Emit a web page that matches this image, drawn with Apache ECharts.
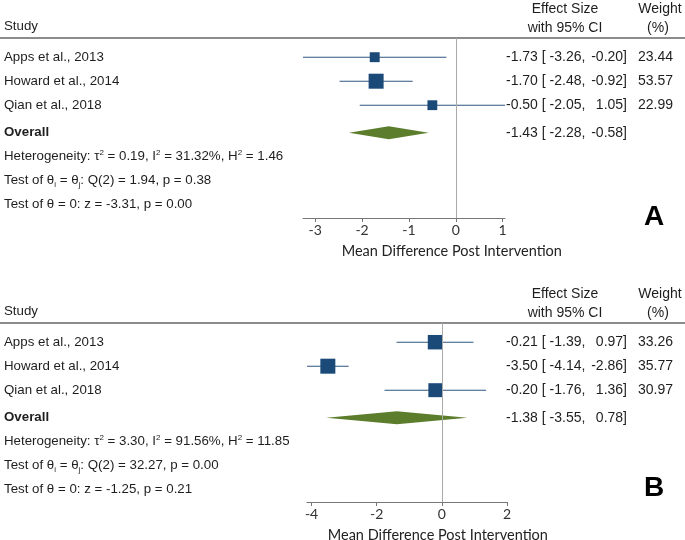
<!DOCTYPE html>
<html><head><meta charset="utf-8">
<script src="https://cdn.jsdelivr.net/npm/echarts@6/dist/echarts.min.js"></script>
<style>html,body{margin:0;padding:0;background:#fff}#c{width:685px;height:540px}</style>
</head><body><div id="c"></div>
<script>
// ---- data ----
const studies = ['Apps et al., 2013', 'Howard et al., 2014', 'Qian et al., 2018'];
// Panel A
const estA = [-1.73, -1.70, -0.50];
const lowA = [-3.26, -2.48, -2.05];
const highA = [-0.20, -0.92, 1.05];
const weightA = [23.44, 53.57, 22.99];
const overallA = [-1.43, -2.28, -0.58];
const hetA = ['0.19', '31.32%', '1.46'];
const qA = ['1.94', '0.38'];
const zA = ['-3.31', '0.00'];
const ticksA = [-3, -2, -1, 0, 1];
// Panel B
const estB = [-0.21, -3.50, -0.20];
const lowB = [-1.39, -4.14, -1.76];
const highB = [0.97, -2.86, 1.36];
const weightB = [33.26, 35.77, 30.97];
const overallB = [-1.38, -3.55, 0.78];
const hetB = ['3.30', '91.56%', '11.85'];
const qB = ['32.27', '0.00'];
const zB = ['-1.25', '0.21'];
const ticksB = [-4, -2, 0, 2];
const axisTitle = 'Mean Difference Post Intervention';
// row positions (in row units) for studies, overall, 3 stat lines
const rows = [0.8, 1.8, 2.8, 3.95, 4.95, 5.95, 6.95];

// ---- build ----
const TXT = '#1e1e1e';
const FONT = '"Liberation Sans", Arial, sans-serif';
const LS = 13.3, RS = 14;
const f2 = v => v.toFixed(2);
const panels = [
  {est: estA, low: lowA, high: highA, w: weightA, ov: overallA, het: hetA, q: qA, z: zA, ticks: ticksA,
   grid: {left: 303, right: 180, top: 38, height: 180}, ymax: 7.5, letter: 'A', letterY: 217},
  {est: estB, low: lowB, high: highB, w: weightB, ov: overallB, het: hetB, q: qB, z: zB, ticks: ticksB,
   grid: {left: 307, right: 178, top: 323, height: 179}, ymax: 7.46, letter: 'B', letterY: 488}
];
const grid = [], xAxis = [], yAxis = [], series = [];
panels.forEach((p, i) => {
  const xmin = Math.min(...p.low, ...p.ticks, p.ov[1]);
  const xmax = Math.max(...p.high, ...p.ticks, p.ov[2]);
  grid.push(Object.assign({containLabel: false}, p.grid));
  xAxis.push({type: 'value', gridIndex: i, min: xmin, max: xmax, splitLine: {show: false},
    axisLine: {show: true, onZero: false, lineStyle: {color: '#777', width: 1}},
    axisTick: {show: true, length: 4, customValues: p.ticks, lineStyle: {color: '#777'}},
    axisLabel: {customValues: p.ticks, fontFamily: 'Lato', fontSize: 14, color: '#333', margin: 5}});
  yAxis.push({type: 'value', gridIndex: i, min: 0, max: p.ymax, inverse: true, show: false});
  const wmax = Math.max(...p.w);
  series.push({type: 'custom', xAxisIndex: i, yAxisIndex: i, z: 2,
    data: p.est.map((e, k) => [p.low[k], p.high[k], rows[k]]),
    encode: {x: [0, 1], y: 2},
    renderItem: (params, api) => {
      const a = api.coord([api.value(0), api.value(2)]);
      const b = api.coord([api.value(1), api.value(2)]);
      return {type: 'line', shape: {x1: a[0], y1: a[1], x2: b[0], y2: b[1]},
        style: {stroke: '#2f5680', lineWidth: 1.1}};
    }});
  series.push({type: 'scatter', xAxisIndex: i, yAxisIndex: i, symbol: 'rect', z: 3,
    data: p.est.map((e, k) => [e, rows[k], p.w[k]]),
    symbolSize: v => 15 * Math.sqrt(v[2] / wmax),
    itemStyle: {color: '#1b4a78', opacity: 1},
    markLine: {symbol: 'none', silent: true, animation: false, label: {show: false},
      lineStyle: {color: '#aaa', width: 1, type: 'solid'}, data: [{xAxis: 0}]}});
  series.push({type: 'custom', xAxisIndex: i, yAxisIndex: i, z: 3,
    data: [[p.ov[1], p.ov[0], p.ov[2], rows[3]]],
    encode: {x: [0, 1, 2], y: 3},
    renderItem: (params, api) => {
      const y = api.value(3);
      const l = api.coord([api.value(0), y]), c = api.coord([api.value(1), y]), r = api.coord([api.value(2), y]);
      const h = 6.5;
      return {type: 'polygon', shape: {points: [[l[0], l[1]], [c[0], c[1] - h], [r[0], r[1]], [c[0], c[1] + h]]},
        style: {fill: '#5c7d2c'}};
    }});
});

const chart = echarts.init(document.getElementById('c'));
chart.setOption({animation: false, grid, xAxis, yAxis, series});

const g = [];
function text(x, y, t, align, extra) {
  g.push({type: 'text', x: x, y: y, silent: true,
    style: Object.assign({text: t, fill: TXT, fontFamily: FONT, fontSize: LS, align: align, verticalAlign: 'middle'}, extra || {})});
}
const R = {fontSize: RS};
const richBase = {
  a: {fontFamily: FONT, fontSize: LS, fill: TXT, lineHeight: 16},
  sup: {fontFamily: FONT, fontSize: 8, fill: TXT, lineHeight: 8, verticalAlign: 'top'},
  sub: {fontFamily: FONT, fontSize: 8, fill: TXT, lineHeight: 8, verticalAlign: 'bottom'}
};
panels.forEach((p, i) => {
  const Y = v => chart.convertToPixel({gridIndex: i}, [0, v])[1];
  const X = v => chart.convertToPixel({gridIndex: i}, [v, 0])[0];
  const top = Y(0), bot = Y(p.ymax);
  g.push({type: 'line', silent: true, shape: {x1: 0, y1: top, x2: 685, y2: top}, style: {stroke: '#666', lineWidth: 1.5}});
  text(4, top - 12, 'Study', 'left');
  text(565, top - 29, 'Effect Size', 'center', R);
  text(565, top - 10, 'with 95% CI', 'center', R);
  text(660, top - 29, 'Weight', 'center', R);
  text(658, top - 10, '(%)', 'center', R);
  studies.forEach((s, k) => {
    const y = Y(rows[k]);
    text(4, y, s, 'left');
    text(506, y, f2(p.est[k]) + ' [ ' + f2(p.low[k]) + ',', 'left', R);
    text(627, y, f2(p.high[k]) + ']', 'right', R);
    text(673, y, f2(p.w[k]), 'right', R);
  });
  const yo = Y(rows[3]);
  text(4, yo, 'Overall', 'left', {fontWeight: 'bold'});
  text(506, yo, f2(p.ov[0]) + ' [ ' + f2(p.ov[1]) + ',', 'left', R);
  text(627, yo, f2(p.ov[2]) + ']', 'right', R);
  text(4, Y(rows[4]), '{a|Heterogeneity: τ}{sup|2}{a| = ' + p.het[0] + ', I}{sup|2}{a| = ' + p.het[1] + ', H}{sup|2}{a| = ' + p.het[2] + '}', 'left', {rich: richBase});
  text(4, Y(rows[5]), '{a|Test of θ}{sub|i}{a| = θ}{sub|j}{a|: Q(2) = ' + p.q[0] + ', p = ' + p.q[1] + '}', 'left', {rich: richBase});
  text(4, Y(rows[6]), 'Test of θ = 0: z = ' + p.z[0] + ', p = ' + p.z[1], 'left');
  text(X(0) - 4, bot + 33, axisTitle, 'center', {fontFamily: 'Lato', fontSize: 14.5, fill: '#222'});
  text(654, p.letterY, p.letter, 'center', {fontSize: 28, fontWeight: 'bold', fill: '#000'});
});
chart.setOption({graphic: g});
</script>
</body></html>
